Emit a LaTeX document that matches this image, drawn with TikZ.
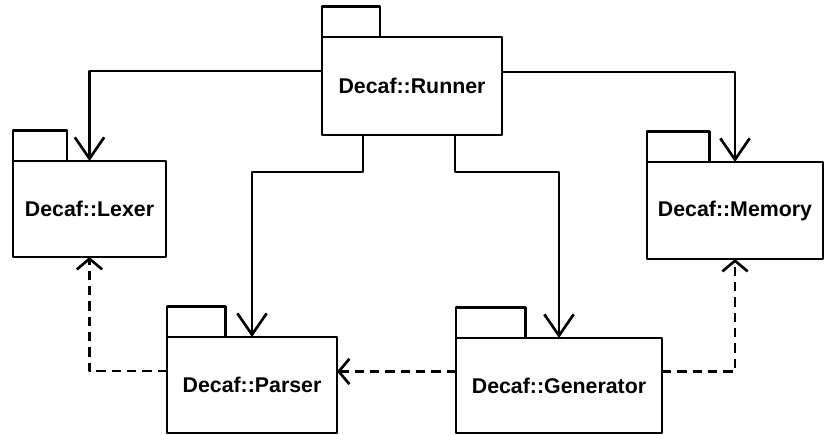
\documentclass[tikz,border=0pt]{standalone}
\usepackage{fontspec}
\setmainfont{Liberation Sans}
\usetikzlibrary{arrows.meta,positioning}
\tikzset{
    % package boxes
    pkgbox/.style={rectangle, draw=black, line width=2.2pt, fill=white, outer sep=0pt, inner sep=4pt, align=center, font=\fontsize{16}{18}\selectfont\bfseries},
    pkgtab/.style={rectangle, draw=black, line width=2.2pt, outer sep=0pt, inner sep=0pt, minimum height=23pt, anchor=south west},
    % connectors
    uses/.style={-{Straight Barb[length=16pt,width=22pt]}, line width=2pt},
    depends/.style={-{Straight Barb[length=8pt,width=19pt]}, line width=2pt, dash pattern=on 7pt off 4.5pt}
}

\begin{document}
\begin{tikzpicture}[x=0.75pt, y=-0.75pt, line join=round]
    \useasboundingbox (0,0) rectangle (825,435);

    % Packages
    \node[pkgbox, minimum width=135pt, minimum height=73.5pt] (runner) at (412,86) {Decaf::Runner};
    \node[pkgbox, minimum width=114.75pt, minimum height=72pt] (lexer) at (89.5,209) {Decaf::Lexer};
    \node[pkgbox, minimum width=132pt, minimum height=72.75pt] (memory) at (735,210.5) {Decaf::Memory};
    \node[pkgbox, minimum width=127.5pt, minimum height=72pt] (parser) at (252,385) {Decaf::Parser};
    \node[pkgbox, minimum width=154.5pt, minimum height=71.25pt] (generator) at (559,385.5) {Decaf::Generator};

    % Tabs
    \node[pkgtab, minimum width=43.5pt] (runnertab) at (runner.north west) {};
    \node[pkgtab, minimum width=40.5pt] (lexertab) at (lexer.north west) {};
    \node[pkgtab, minimum width=47pt] (memorytab) at (memory.north west) {};
    \node[pkgtab, minimum width=44pt] (parsertab) at (parser.north west) {};
    \node[pkgtab, minimum width=52pt] (generatortab) at (generator.north west) {};

    % Arrows
    \draw[uses] (runner.west) ++(0,-15) -| (lexer.north);
    \draw[uses] (runner.east) ++(0,-14) -| (memory.north);
    \draw[uses] (runner.south) ++(-49,0) -- ++(0,37) -| (parser.north);
    \draw[uses] (runner.south) ++(43,0) -- ++(0,37) -| (generator.north);

    \draw[depends] (parser.west) ++(0,-14) -| (lexer.south);
    \draw[depends] (generator.west) ++(0,-14) coordinate (gw) -- (gw -| parser.east);
    \draw[depends] (generator.east) ++(0,-14) -| (memory.south);

\end{tikzpicture}
\end{document}
